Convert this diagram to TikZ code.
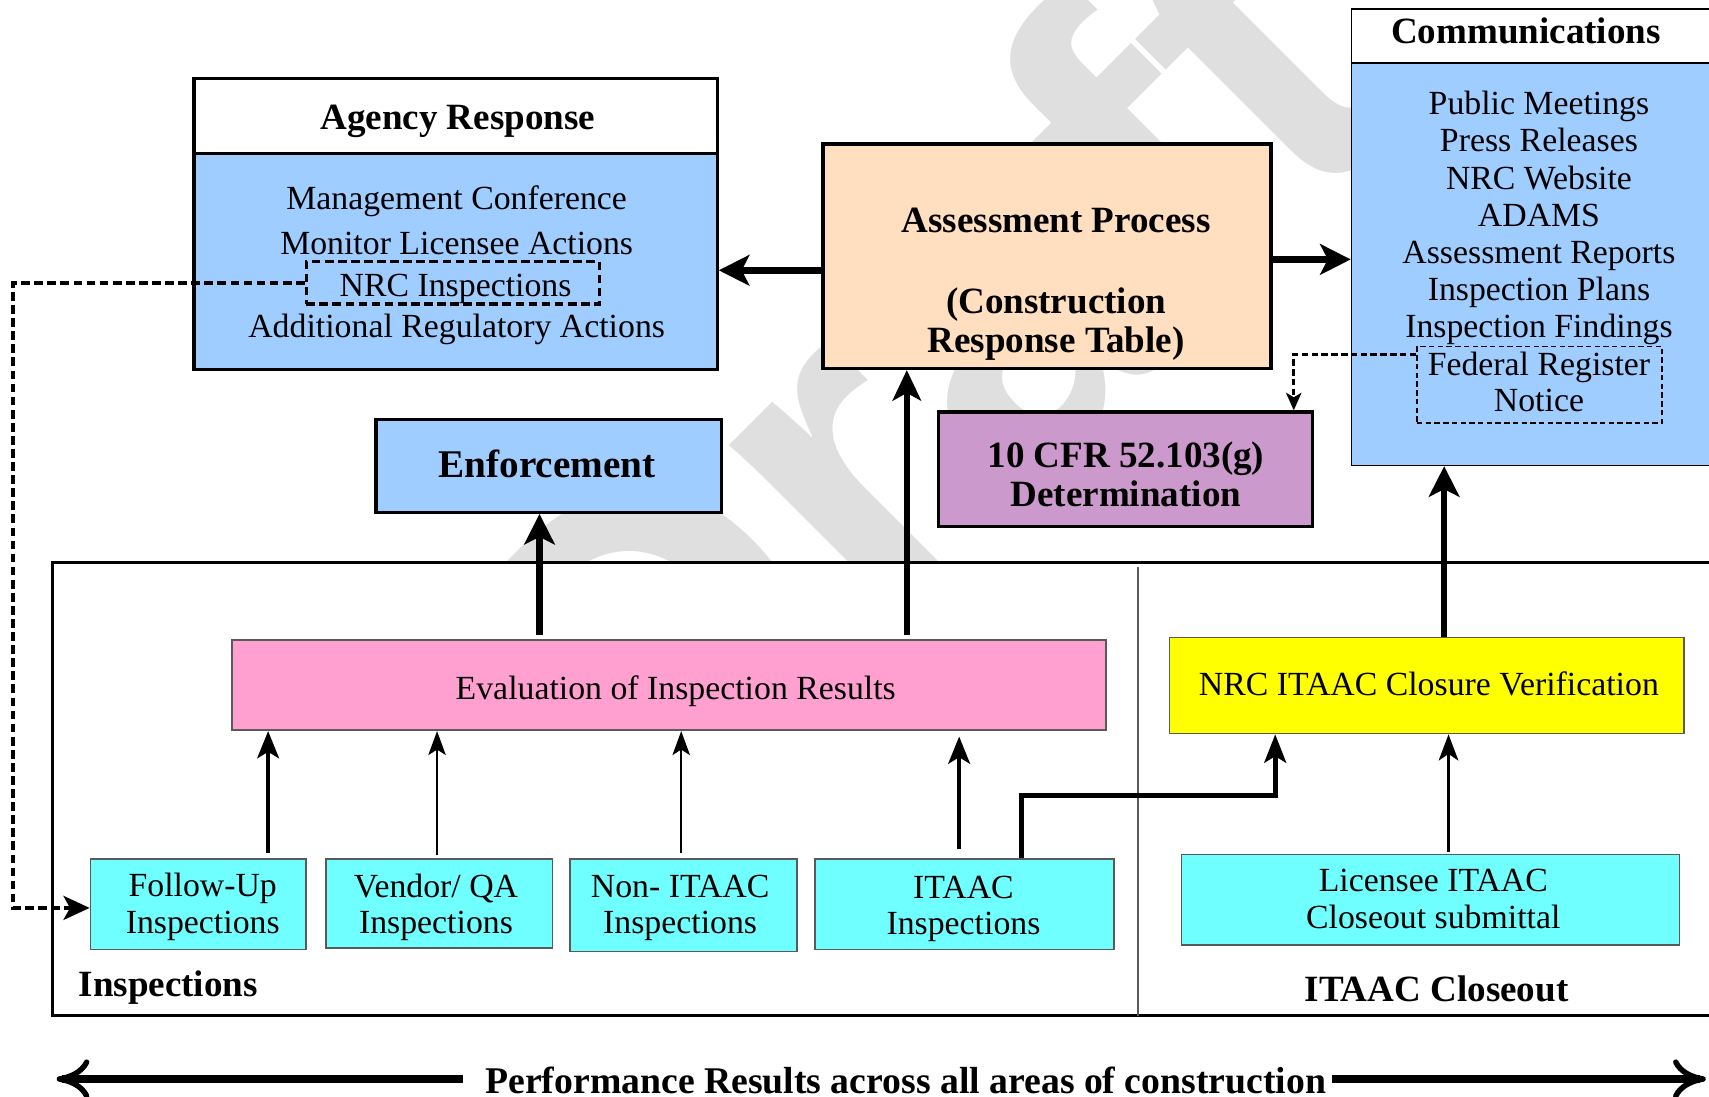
\documentclass[tikz,border=0pt]{standalone}
\usepackage{fontspec}
\setmainfont{Liberation Serif}
\setsansfont{Liberation Sans}
\usetikzlibrary{arrows.meta}

\definecolor{respblue}{RGB}{160,205,255}
\definecolor{peach}{RGB}{255,223,191}
\definecolor{cfrpurple}{RGB}{204,153,204}
\definecolor{evalpink}{RGB}{255,160,208}
\definecolor{verifyellow}{RGB}{255,255,0}
\definecolor{inspcyan}{RGB}{112,255,255}
\definecolor{edgegray}{RGB}{90,90,90}
\definecolor{markgray}{RGB}{223,223,223}

\begin{document}
\begin{tikzpicture}[x=1pt,y=-1pt,
  reg/.style={font=\fontsize{31}{33.5}\selectfont, inner sep=0pt, align=center},
  bld/.style={font=\fontsize{34}{36}\selectfont\bfseries, inner sep=0pt, align=center},
  heavybox/.style={draw=black, line width=3pt, inner sep=0pt},
  lightbox/.style={draw=edgegray, line width=1.5pt, inner sep=0pt},
  dashbox/.style={draw=black, line width=3pt, dash pattern=on 8pt off 4pt, inner sep=0pt},
  thindash/.style={draw=black, line width=1.3pt, dash pattern=on 5pt off 3pt, inner sep=0pt},
  bigarrow/.style={line width=6pt, -{Stealth[length=28pt, width=28pt, inset=7pt]}},
  midarrow/.style={line width=3.5pt, -{Stealth[length=25pt, width=20pt, inset=6pt]}},
  smallarrow/.style={line width=2pt, -{Stealth[length=22pt, width=16pt, inset=5pt]}},
  dasharrow/.style={line width=3.5pt, dash pattern=on 8pt off 4pt, -{Stealth[length=24pt, width=22pt, inset=6pt]}},
  thindasharrow/.style={line width=2.8pt, dash pattern=on 6pt off 3pt, -{Stealth[length=16pt, width=14pt, inset=4pt]}},
  perfarrow/.style={line width=8pt, -{Computer Modern Rightarrow[length=30pt, width=36pt, line width=5pt]}}
]
\useasboundingbox (0,0) rectangle (1568,1006);

% background watermark
\node[font=\fontsize{430}{430}\sffamily\bfseries, text=markgray, rotate=45, inner sep=0pt, anchor=base west] (wm) at (590,809) {Draft};

% ---------------- Agency Response ----------------
\node[heavybox, fill=white, minimum width=480pt, minimum height=69pt] (agtitle) at (418,106.5) {};
\node[heavybox, fill=respblue, minimum width=480pt, minimum height=198pt] (agbody) at (418,240) {};
\node[bld] (agtitletext) at (420,111) {Agency Response};
\node[reg] (ag1) at (419,185) {Management Conference};
\node[reg] (ag2) at (419,223) {Monitor Licensee Actions};
\node[dashbox, minimum width=269pt, minimum height=39pt] (nrcinsp) at (415.5,259.5) {};
\node[reg] (ag3) at (418,265) {NRC Inspections};
\node[reg] (ag4) at (419,302) {Additional Regulatory Actions};

% ---------------- Assessment Process ----------------
\node[heavybox, fill=peach, minimum width=411pt, minimum height=206pt] (assess) at (960.5,235) {};
\node[bld] (assess1) at (969,202) {Assessment Process};
\node[bld] (assess2) at (969,297) {(Construction\\Response Table)};

% ---------------- Communications ----------------
\node[draw=black, line width=1.5pt, fill=white, inner sep=0pt, minimum width=350pt, minimum height=50pt] (comtitle) at (1415,33) {};
\node[draw=black, line width=1.5pt, fill=respblue, inner sep=0pt, minimum width=350pt, minimum height=369pt] (combody) at (1415,242.5) {};
\node[bld] (comtitletext) at (1400,28) {Communications};
\node[reg, font=\fontsize{31}{34}\selectfont] (comlist) at (1412,200) {Public Meetings\\Press Releases\\NRC Website\\ADAMS\\Assessment Reports\\Inspection Plans\\Inspection Findings};
\node[thindash, minimum width=225pt, minimum height=70pt] (fedreg) at (1412.5,353) {};
\node[reg, font=\fontsize{31}{33}\selectfont] (fedregtext) at (1412,350) {Federal Register\\Notice};

% ---------------- Enforcement and 52.103(g) ----------------
\node[heavybox, fill=respblue, minimum width=317pt, minimum height=85pt] (enf) at (503.5,427.5) {};
\node[bld, font=\fontsize{36}{38}\selectfont\bfseries] (enftext) at (502,426) {Enforcement};
\node[heavybox, fill=cfrpurple, minimum width=343pt, minimum height=105pt] (cfr) at (1032.5,430.5) {};
\node[bld] (cfrtext) at (1033,435) {10 CFR 52.103(g)\\Determination};

% ---------------- Lower frame ----------------
\draw[line width=3pt, fill=white] (48,516) rectangle (1600,932);
\coordinate (divtop) at (1044,520);
\coordinate (divbot) at (1044,932);
\draw[line width=1.2pt, draw=edgegray] (divtop) -- (divbot);

\node[lightbox, fill=evalpink, minimum width=802pt, minimum height=83pt] (eval) at (614,628.5) {};
\node[reg] (evaltext) at (620,634) {Evaluation of Inspection Results};
\node[lightbox, fill=verifyellow, minimum width=472pt, minimum height=88pt] (verify) at (1309,629) {};
\node[reg] (verifytext) at (1311,627) {NRC ITAAC Closure Verification};

\node[lightbox, fill=inspcyan, minimum width=198pt, minimum height=83pt] (followup) at (182,829.5) {};
\node[reg] (followuptext) at (186,832) {Follow-Up\\Inspections};
\node[lightbox, fill=inspcyan, minimum width=208pt, minimum height=82pt] (vendor) at (403,829) {};
\node[reg] (vendortext) at (400,832.5) {Vendor/ QA\\Inspections};
\node[lightbox, fill=inspcyan, minimum width=208pt, minimum height=85pt] (nonitaac) at (627,830.5) {};
\node[reg] (nonitaactext) at (624,833) {Non- ITAAC\\Inspections};
\node[lightbox, fill=inspcyan, minimum width=274pt, minimum height=83pt] (itaac) at (885,829.5) {};
\node[reg] (itaactext) at (884,834) {ITAAC\\Inspections};
\node[lightbox, fill=inspcyan, minimum width=457pt, minimum height=83pt] (licensee) at (1312.5,825.5) {};
\node[reg] (licenseetext) at (1315,825) {Licensee ITAAC\\Closeout submittal};

\node[bld, anchor=west] (insplabel) at (72,906) {Inspections};
\node[bld] (closeoutlabel) at (1318,907) {ITAAC Closeout};

% ---------------- Connectors ----------------
\draw[bigarrow] (assess.west |- 0,248) -- (agbody.east |- 0,248);
\draw[bigarrow] (assess.east |- 0,238) -- (combody.west |- 0,238);
\draw[bigarrow] (eval.north -| 495,0) ++(0,-4) -- (enf.south -| 495,0);
\draw[line width=5.5pt, -{Stealth[length=28pt, width=26pt, inset=7pt]}] (eval.north -| 832,0) ++(0,-4) -- (assess.south -| 832,0);
\draw[bigarrow] (verify.north -| 1325,0) -- (combody.south -| 1325,0);

\draw[midarrow] (followup.north -| 246,0) ++(0,-5) -- (eval.south -| 246,0);
\draw[smallarrow] (vendor.north -| 401,0) ++(0,-3) -- (eval.south -| 401,0);
\draw[smallarrow] (nonitaac.north -| 625,0) ++(0,-5) -- (eval.south -| 625,0);
\draw[midarrow] (itaac.north -| 880,0) ++(0,-8) -- ([yshift=-5pt]eval.south -| 880,0);
\draw[line width=2.5pt, -{Stealth[length=24pt, width=18pt, inset=6pt]}] (licensee.north -| 1329,0) ++(0,-2) -- (verify.south -| 1329,0);
\draw[line width=4.5pt, -{Stealth[length=26pt, width=20pt, inset=6pt]}] (itaac.north -| 937,0) -- (937,730) -- (1170,730) -- (verify.south -| 1170,0);

\draw[dasharrow] (nrcinsp.west) -- (12,259.5) -- (12,833) -- (followup.west |- 0,833);
\draw[thindasharrow] (fedreg.west |- 0,325) -- (1187,325) -- (cfr.north -| 1187,0);

% ---------------- Bottom banner ----------------
\node[bld, font=\fontsize{34.6}{36}\selectfont\bfseries] (perf) at (831,991) {Performance Results across all areas of construction};
\coordinate (leftend) at (52,990);
\coordinate (rightend) at (1565,990);
\draw[perfarrow] ([xshift=-20pt]perf.west |- 0,990) -- (leftend);
\draw[perfarrow] ([xshift=5pt]perf.east |- 0,990) -- (rightend);
\end{tikzpicture}
\end{document}
